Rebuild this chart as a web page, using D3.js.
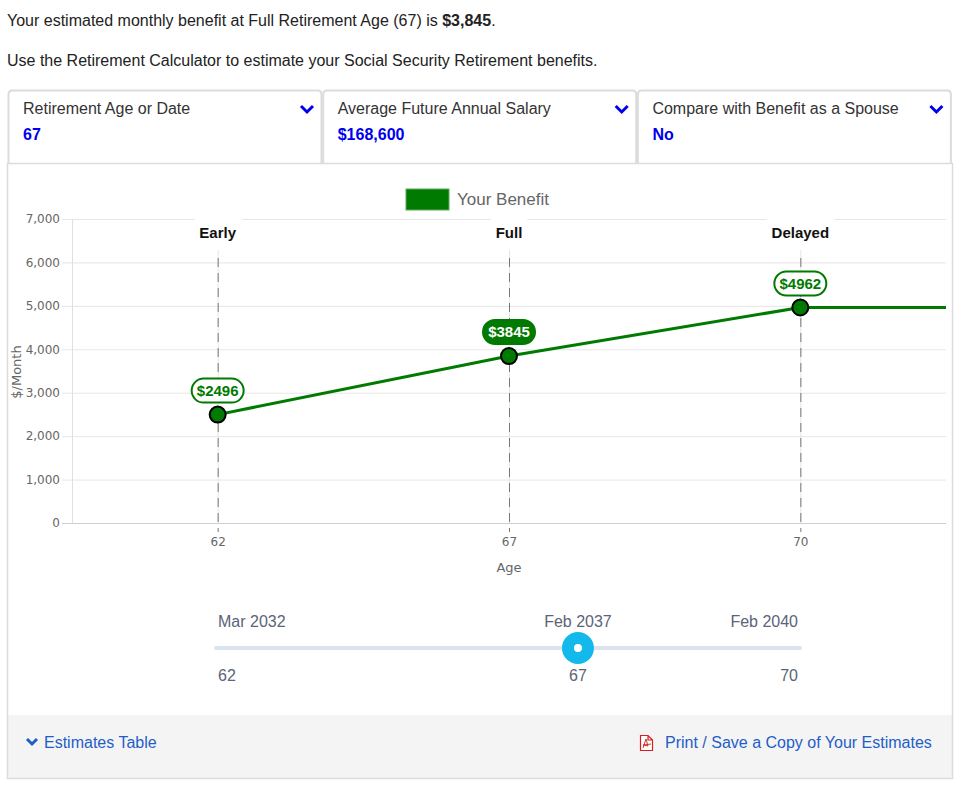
<!DOCTYPE html>
<meta charset="utf-8">
<style>
body { margin: 0; background: #fff; }
svg { display: block; font-family: "Liberation Sans", Arial, sans-serif; }
.lucida { font-family: "DejaVu Sans", sans-serif; }
</style>
<svg width="961" height="788"></svg>
<script src="https://d3js.org/d3.v7.min.js"></script>
<script>

// data
var ages = [62, 67, 70];
var benefits = [2496, 3845, 4962];
var milestones = ["Early", "Full", "Delayed"];
var yTicks = [0, 1000, 2000, 3000, 4000, 5000, 6000, 7000];
var selectedAge = 67;
var sliderDates = ["2032-03", "2037-02", "2040-02"];
var sliderDateLabels = ["Mar 2032", "Feb 2037", "Feb 2040"];
var dropdownLabels = ["Retirement Age or Date", "Average Future Annual Salary", "Compare with Benefit as a Spouse"];
var dropdownValues = ["67", "$168,600", "No"];

var GREEN = "#007a00";
var BLUE = "#1f5ec8";

var svg = d3.select("svg");

/************* HEADER TEXT ***************/
var head = svg.append("text").attr("x", 7).attr("y", 26)
    .style("font-size", "16px").attr("fill", "#222");
head.append("tspan").text("Your estimated monthly benefit at Full Retirement Age (" + selectedAge + ") is ");
head.append("tspan").attr("font-weight", "bold").text("$" + d3.format(",")(benefits[ages.indexOf(selectedAge)]));
head.append("tspan").text(".");

svg.append("text").attr("x", 7).attr("y", 66)
    .style("font-size", "16px").attr("fill", "#222")
    .text("Use the Retirement Calculator to estimate your Social Security Retirement benefits.");

/************* DROPDOWNS ***************/
var dd = svg.append("g").selectAll("g")
    .data(dropdownLabels)
    .enter().append("g")
      .attr("transform", function(d, i) { return "translate(" + (8 + i * 314.7) + ",90)"; });

dd.append("path")
    .attr("d", "M0.5,73 V4.5 Q0.5,0.5 4.5,0.5 H309.5 Q313.5,0.5 313.5,4.5 V73")
    .attr("fill", "#fff").attr("stroke", "#dcdcdc").attr("stroke-width", 2);
dd.append("text").attr("x", 15).attr("y", 24)
    .style("font-size", "16px").attr("fill", "#333")
    .text(function(d) { return d; });
dd.append("text").attr("x", 15).attr("y", 50)
    .style("font-size", "16px").attr("font-weight", "bold").attr("fill", "#0000ee")
    .text(function(d, i) { return dropdownValues[i]; });
dd.append("path")
    .attr("d", "M293,16 L299,22 L305,16")
    .attr("fill", "none").attr("stroke", "#0000ee").attr("stroke-width", 3);

/************* CHART PANEL ***************/
svg.append("rect").attr("x", 8).attr("y", 715).attr("width", 944).attr("height", 63).attr("fill", "#f4f4f4");
svg.append("rect").attr("x", 7.5).attr("y", 163.5).attr("width", 945).attr("height", 615)
    .attr("fill", "none").attr("stroke", "#dcdcdc").attr("stroke-width", 1.5);

var margin = {left: 72, right: 946, top: 219, bottom: 523};

var x = d3.scalePoint().domain(ages).range([margin.left, margin.right]).padding(0.5);
var y = d3.scaleLinear().domain([0, 7000]).range([margin.bottom, margin.top]);

// gridlines
svg.append("g").selectAll("line")
    .data(yTicks)
    .enter().append("line")
      .attr("x1", 62).attr("x2", margin.right)
      .attr("y1", function(d) { return y(d) + 0.5; })
      .attr("y2", function(d) { return y(d) + 0.5; })
      .attr("stroke", function(d) { return d === 0 ? "#cfcfcf" : "#e6e6e6"; });

svg.append("line").attr("x1", margin.left + 0.5).attr("x2", margin.left + 0.5)
    .attr("y1", margin.top).attr("y2", margin.bottom).attr("stroke", "#e0e0e0");

// y axis labels
var yAxis = d3.axisLeft(y).tickValues(yTicks).tickSize(0).tickPadding(0).tickFormat(d3.format(","));
svg.append("g").attr("transform", "translate(60,0)").call(yAxis)
    .attr("font-size", 12).attr("font-family", "DejaVu Sans, sans-serif")
    .call(function(g) { g.select(".domain").remove(); })
    .selectAll("text").attr("fill", "#666");

svg.append("text").attr("class", "lucida")
    .attr("transform", "translate(21,372) rotate(-90)")
    .attr("text-anchor", "middle")
    .attr("fill", "#666").style("font-size", "13px")
    .text("$/Month");

// x axis labels
var xAxis = d3.axisBottom(x).tickSize(0).tickPadding(0);
svg.append("g").attr("transform", "translate(0,537)").call(xAxis)
    .attr("font-size", 12).attr("font-family", "DejaVu Sans, sans-serif")
    .call(function(g) { g.select(".domain").remove(); })
    .selectAll("text").attr("fill", "#666");

svg.append("text").attr("class", "lucida").attr("x", x(67)).attr("y", 572)
    .attr("text-anchor", "middle").attr("fill", "#666").style("font-size", "13px")
    .text("Age");

/************* MILESTONE LINES ***************/
var ms = svg.append("g").selectAll("g")
    .data(ages)
    .enter().append("g");

ms.append("line")
    .attr("x1", function(d) { return x(d) + 0.5; }).attr("x2", function(d) { return x(d) + 0.5; })
    .attr("y1", 250).attr("y2", margin.bottom)
    .attr("stroke", "#e6e6e6");
ms.append("line")
    .attr("x1", function(d) { return x(d) + 0.5; }).attr("x2", function(d) { return x(d) + 0.5; })
    .attr("y1", 258).attr("y2", 532)
    .attr("stroke", "#777").attr("stroke-dasharray", "9,6");

var msLabel = ms.append("text")
    .attr("x", function(d) { return x(d); }).attr("y", 238)
    .attr("text-anchor", "middle").attr("font-weight", "bold")
    .attr("fill", "#111").style("font-size", "15px")
    .text(function(d, i) { return milestones[i]; });

msLabel.each(function() {
  var bb = this.getBBox();
  d3.select(this.parentNode).insert("rect", "text")
    .attr("x", bb.x - 5).attr("y", 214).attr("width", bb.width + 10).attr("height", 36)
    .attr("rx", 4).attr("fill", "#fff");
});

/************* LEGEND ***************/
svg.append("rect").attr("x", 406).attr("y", 189).attr("width", 43).attr("height", 21)
    .attr("fill", GREEN).attr("stroke", "#5cab5c").attr("stroke-width", 1);
svg.append("text").attr("x", 457).attr("y", 205)
    .attr("fill", "#666").style("font-size", "17px")
    .text("Your Benefit");

/************* LINE + POINTS ***************/
var series = ages.map(function(a, i) { return {x: x(a), y: y(benefits[i])}; });
series.push({x: margin.right, y: y(benefits[benefits.length - 1])});

svg.append("path")
    .datum(series)
    .attr("fill", "none").attr("stroke", GREEN).attr("stroke-width", 3)
    .attr("d", d3.line().x(function(d) { return d.x; }).y(function(d) { return d.y; }));

svg.append("g").selectAll("circle")
    .data(ages)
    .enter().append("circle")
      .attr("cx", function(d) { return x(d); })
      .attr("cy", function(d, i) { return y(benefits[i]); })
      .attr("r", 8)
      .attr("fill", GREEN).attr("stroke", "#000").attr("stroke-width", 2);

var tags = svg.append("g").selectAll("g")
    .data(ages)
    .enter().append("g")
      .attr("transform", function(d, i) { return "translate(" + x(d) + "," + (y(benefits[i]) - 24) + ")"; });

tags.append("rect")
    .attr("x", -26).attr("y", -12).attr("width", 52).attr("height", 24).attr("rx", 12)
    .attr("fill", function(d) { return d === selectedAge ? GREEN : "#fff"; })
    .attr("stroke", GREEN).attr("stroke-width", 2);
tags.append("text")
    .attr("text-anchor", "middle").attr("dy", "0.35em")
    .attr("font-weight", "bold").style("font-size", "15px")
    .attr("fill", function(d) { return d === selectedAge ? "#fff" : GREEN; })
    .text(function(d, i) { return "$" + benefits[i]; });

/************* SLIDER ***************/
var parseMonth = d3.timeParse("%Y-%m");
var dates = sliderDates.map(parseMonth);
var sx = d3.scaleTime().domain([dates[0], dates[2]]).range([216, 800]);

svg.append("line").attr("x1", sx(dates[0])).attr("x2", sx(dates[2]))
    .attr("y1", 648).attr("y2", 648)
    .attr("stroke", "#dbe2f0").attr("stroke-width", 4).attr("stroke-linecap", "round");

var anchors = ["start", "middle", "end"];
var nudges = [2, -1, -2];
svg.append("g").selectAll("text")
    .data(sliderDateLabels)
    .enter().append("text")
      .attr("x", function(d, i) { return sx(dates[i]) + nudges[i]; })
      .attr("y", 627)
      .attr("text-anchor", function(d, i) { return anchors[i]; })
      .attr("fill", "#5b6478").style("font-size", "16px")
      .text(function(d) { return d; });
svg.append("g").selectAll("text")
    .data(ages)
    .enter().append("text")
      .attr("x", function(d, i) { return sx(dates[i]) + nudges[i]; })
      .attr("y", 681)
      .attr("text-anchor", function(d, i) { return anchors[i]; })
      .attr("fill", "#5b6478").style("font-size", "16px")
      .text(function(d) { return d; });

var knobX = sx(dates[ages.indexOf(selectedAge)]) - 1;
svg.append("circle").attr("cx", knobX).attr("cy", 648).attr("r", 16).attr("fill", "#14b9eb");
svg.append("circle").attr("cx", knobX).attr("cy", 648).attr("r", 4).attr("fill", "#fff");

/************* FOOTER ***************/
svg.append("path").attr("d", "M27,739 L32,744 L37,739")
    .attr("fill", "none").attr("stroke", BLUE).attr("stroke-width", 3);
svg.append("text").attr("x", 44).attr("y", 748)
    .attr("fill", BLUE).style("font-size", "16px")
    .text("Estimates Table");

svg.append("path").attr("d", "M640.5,735.5 H648 L652.5,740 V750.5 H640.5 Z M648,735.5 V740 H652.5")
    .attr("fill", "#fff").attr("stroke", "#d42020").attr("stroke-width", 1.2);
svg.append("path").attr("d", "M643,748 L646,739 L648,746 L643,745 L651,744")
    .attr("fill", "none").attr("stroke", "#d42020").attr("stroke-width", 0.9);
svg.append("text").attr("x", 665).attr("y", 748)
    .attr("fill", BLUE).style("font-size", "16px")
    .text("Print / Save a Copy of Your Estimates");

</script>
